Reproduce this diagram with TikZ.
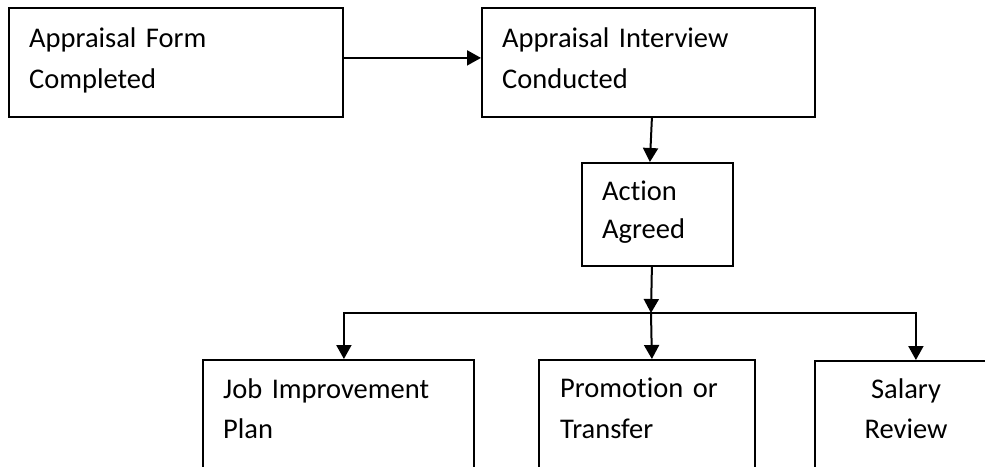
\documentclass[tikz,border=0pt]{standalone}
\usepackage{fontspec}
\setmainfont{Carlito}[Ligatures={NoCommon}]
\usetikzlibrary{arrows.meta,calc}
\begin{document}
\begin{tikzpicture}[x=1pt,y=-1pt,
  box/.style={draw=black,line width=1.8pt,rectangle,inner sep=0pt,anchor=north west},
  txt/.style={inner sep=0pt,anchor=base west,align=left,text width=#1,
    font=\fontsize{28.5}{41}\selectfont},
  txt/.default=300pt,
  arr/.style={line width=2pt,-{Triangle[length=14pt,width=15pt]}},
  conn/.style={line width=2pt}]
\useasboundingbox (0,0) rectangle (985,466);
\clip (0,0) rectangle (985,466);
% boxes
\node[box,minimum width=334pt,minimum height=109pt] (b1) at (8,7) {};
\node[box,minimum width=333pt,minimum height=109pt] (b2) at (481,7) {};
\node[box,minimum width=151pt,minimum height=103pt] (b3) at (581,162) {};
\node[box,minimum width=271pt,minimum height=141pt] (b4) at (202,359) {};
\node[box,minimum width=216pt,minimum height=141pt] (b5) at (538,359) {};
\node[box,minimum width=184pt,minimum height=141pt] (b6) at (814,360) {};
% texts
\node[txt] (t1) at (29,47) {Appraisal Form\\Completed};
\node[txt] (t2) at (502,47) {Appraisal Interview\\Conducted};
\node[txt=120pt,font=\fontsize{28.5}{38}\selectfont] (t3) at (602,200) {Action\\Agreed};
\node[txt=240pt,font=\fontsize{28.5}{40}\selectfont] (t4) at (223,398) {Job Improvement\\Plan};
\node[txt=190pt] (t5) at (560,397) {Promotion or\\Transfer};
\node[txt=160pt,anchor=base,align=center,font=\fontsize{28.5}{40}\selectfont] (t6) at (906,398) {Salary\\Review};
% connectors
\coordinate (j) at (651,313);
\draw[arr] ([yshift=4.5pt]b1.east) -- ([yshift=4.5pt]b2.west);
\draw[arr] ([xshift=3.5pt]b2.south) -- ([xshift=-7.5pt]b3.north);
\draw[arr] ([xshift=-5.5pt]b3.south) -- (j);
\draw[arr] (j) -| ([xshift=5.5pt]b4.north);
\draw[arr] (j) -- ([xshift=5pt]b5.north);
\draw[arr] (j) -| ([xshift=9pt]b6.north);
\end{tikzpicture}
\end{document}
